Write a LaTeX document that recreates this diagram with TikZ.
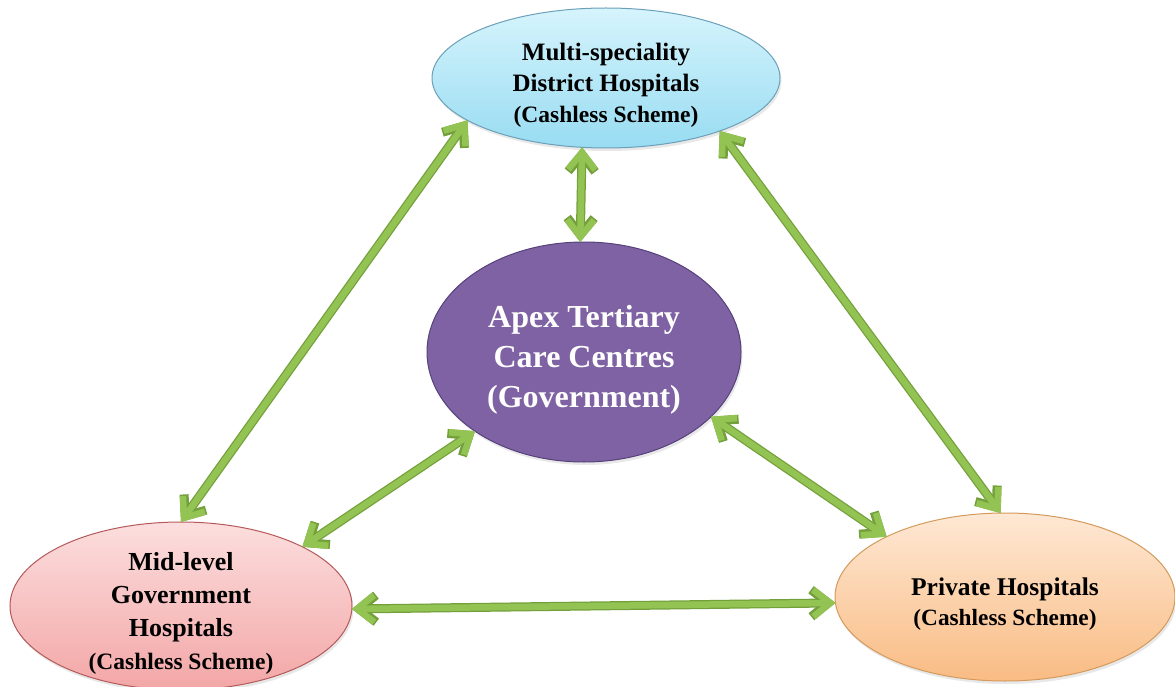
\documentclass[tikz,border=0pt]{standalone}
\usepackage{fontspec}
\setmainfont{Liberation Serif}
\usetikzlibrary{arrows.meta,shapes.geometric,shadows}
\definecolor{arrowdark}{HTML}{74A03C}
\definecolor{arrowlight}{HTML}{93C353}
\definecolor{bluetop}{HTML}{D6F4FC}
\definecolor{bluebot}{HTML}{98DCF2}
\definecolor{blueedge}{HTML}{6C9FB8}
\definecolor{purplefill}{HTML}{7F62A3}
\definecolor{purpleedge}{HTML}{56427A}
\definecolor{pinktop}{HTML}{FCDEDE}
\definecolor{pinkbot}{HTML}{F3A6A6}
\definecolor{pinkedge}{HTML}{B45A5A}
\definecolor{orangetop}{HTML}{FEE8D4}
\definecolor{orangebot}{HTML}{F9BC84}
\definecolor{orangeedge}{HTML}{D49A5C}
\tikzset{
  hosp/.style={ellipse, draw, line width=1pt, inner sep=0pt, outer sep=0pt,
    font=\bfseries, text=black,
    drop shadow={opacity=0.18, shadow xshift=1.5pt, shadow yshift=-3pt}},
  arrout/.style={draw=arrowdark, line width=9pt,
    {Straight Barb[length=17pt,width=27pt,line width=0pt 1]}-{Straight Barb[length=17pt,width=27pt,line width=0pt 1]}},
  arrin/.style={draw=arrowlight, line width=6.5pt,
    {Straight Barb[length=17pt,width=27pt,line width=0pt 1]}-{Straight Barb[length=17pt,width=27pt,line width=0pt 1]}}
}
% zero-size centred text block, shifted down by #1
\newcommand\hostext[2]{\makebox[0pt]{\raisebox{#1}[0pt][0pt]{\parbox{300pt}{\centering #2}}}}
\newcommand\biarr[2]{\path[arrout] (#1) -- (#2); \path[arrin] (#1) -- (#2);}
\begin{document}
\begin{tikzpicture}[x=1pt,y=-1pt]
\useasboundingbox (0,0) rectangle (1175,687);
\node[hosp, draw=blueedge, top color=bluetop, bottom color=bluebot,
      minimum width=348pt, minimum height=140pt] (top) at (606,78)
  {\hostext{-10pt}{\fontsize{25}{31}\selectfont
   Multi-speciality\\District Hospitals\\{\fontsize{23.5}{31}\selectfont (Cashless Scheme)}}};
\node[hosp, draw=purpleedge, fill=purplefill, text=white,
      minimum width=314pt, minimum height=220pt] (ctr) at (584,352)
  {\hostext{-10pt}{\fontsize{32}{40}\selectfont
   Apex Tertiary\\Care Centres\\(Government)}};
\node[hosp, draw=pinkedge, top color=pinktop, bottom color=pinkbot,
      minimum width=342pt, minimum height=168pt] (bl) at (181,606)
  {\hostext{-10pt}{\fontsize{26}{33}\selectfont
   Mid-level\\Government\\Hospitals\\{\fontsize{23.5}{33}\selectfont (Cashless Scheme)}}};
\node[hosp, draw=orangeedge, top color=orangetop, bottom color=orangebot,
      minimum width=340pt, minimum height=168pt] (br) at (1005,597)
  {\hostext{-10pt}{\fontsize{25.5}{30}\selectfont
   Private Hospitals\\{\fontsize{23.3}{30}\selectfont (Cashless Scheme)}}};
\biarr{top.197}{bl.90}
\biarr{top.251}{ctr.92}
\biarr{top.335}{br.93}
\biarr{ctr.216}{bl.26}
\biarr{ctr.333}{br.153}
\biarr{bl.359}{br.182}
\end{tikzpicture}
\end{document}
